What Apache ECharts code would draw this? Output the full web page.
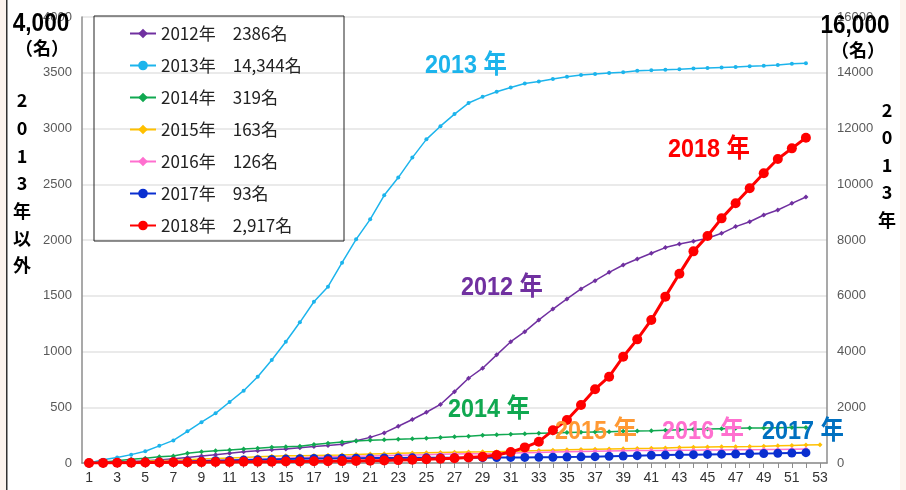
<!DOCTYPE html>
<html><head><meta charset="utf-8">
<script src="https://cdn.jsdelivr.net/npm/echarts@6/dist/echarts.min.js"></script>
<style>html,body{margin:0;padding:0;background:#fff;}#c{width:906px;height:490px;}</style>
</head><body><div id="c"></div>
<script>
const weeks = Array.from({length: 53}, (_, i) => String(i + 1));
const seriesNames = ['2012年', '2013年', '2014年', '2015年', '2016年', '2017年', '2018年'];
const totals = ['2386名', '14,344名', '319名', '163名', '126名', '93名', '2,917名'];
const leftTicks = [0, 500, 1000, 1500, 2000, 2500, 3000, 3500, 4000];
const rightTicks = [0, 2000, 4000, 6000, 8000, 10000, 12000, 14000, 16000];

const y2012 = [0,3,8,14,20,28,38,50,62,75,88,100,110,118,126,137,147,157,168,200,230,270,330,390,455,525,640,760,850,970,1088,1178,1283,1381,1471,1561,1635,1710,1776,1830,1881,1932,1964,1988,2015,2060,2120,2164,2224,2269,2329,2386];
const y2013 = [0,120,200,300,420,615,810,1135,1465,1783,2188,2594,3097,3695,4352,5047,5786,6324,7185,8024,8742,9603,10240,10956,11610,12083,12518,12913,13136,13316,13474,13614,13686,13775,13856,13918,13954,13990,14014,14074,14086,14110,14122,14150,14170,14190,14210,14230,14250,14280,14320,14344];
const y2014 = [0,10,21,33,42,57,63,87,101,110,117,126,132,141,146,150,165,177,188,198,205,208,213,217,222,229,235,241,248,254,258,263,266,270,273,276,279,281,284,287,290,294,298,302,305,308,311,313,315,317,318,319];
const y2015 = [0,3,6,10,15,20,25,30,35,40,45,50,55,60,64,66,68,70,72,76,80,84,87,90,93,95,97,99,100,102,105,108,111,115,118,121,124,126,128,130,132,135,138,141,143,145,146,148,151,155,158,161,163];
const y2016 = [0,2,4,7,10,13,16,19,22,25,28,31,34,38,42,48,52,55,57,60,63,66,69,72,75,78,80,82,84,86,89,92,95,98,101,104,106,108,110,111,112,113,114,115,116,117,118,119,120,122,124,126];
const y2017 = [0,2,4,6,8,10,12,14,17,20,23,26,29,32,35,38,40,41,42,43,44,45,45,46,46,47,47,48,48,49,50,50,51,52,54,55,57,60,63,66,69,71,73,75,77,79,81,83,85,87,90,93];
const y2018 = [0,1,2,3,4,5,6,7,8,9,10,11,12,12,13,14,15,16,17,19,21,23,26,29,33,38,43,50,57,72,98,140,191,293,385,520,662,774,953,1109,1283,1492,1698,1898,2036,2194,2329,2464,2598,2727,2822,2917];

const colors = ['#7030a0', '#1cb4ec', '#10a850', '#ffc000', '#ff6fcf', '#0a2fd0', '#ff0000'];
const dataArr = [y2012, y2013, y2014, y2015, y2016, y2017, y2018];
const symSize = [5, 4, 5, 5, 5, 9, 10];
const lineW = [1.5, 1.5, 1.5, 1.5, 1.5, 2, 3];
const symbols = ['diamond', 'circle', 'diamond', 'diamond', 'diamond', 'circle', 'circle'];

const series = seriesNames.map((n, i) => ({
  name: n, type: 'line', data: dataArr[i], yAxisIndex: i === 1 ? 1 : 0,
  symbol: symbols[i], symbolSize: symSize[i], showAllSymbol: true,
  lineStyle: {color: colors[i], width: lineW[i]},
  itemStyle: {color: colors[i]},
  z: 2 + i, animation: false
}));

const jpFont = "'Noto Sans CJK JP', 'Liberation Sans', sans-serif";
function bigLabel(text, cx, cy, color) {
  return {type: 'text', x: cx, y: cy, scaleX: 0.9, z: 100,
    style: {text: text, fill: color, font: "bold 26px 'Liberation Sans', 'Noto Sans CJK JP', sans-serif", textAlign: 'center', textVerticalAlign: 'middle'}};
}
function vertText(chars, cx, ys) {
  return chars.map((ch, i) => ({type: 'text', x: cx, y: ys[i], z: 100,
    style: {text: ch, fill: '#000', font: "bold 18px " + jpFont, textAlign: 'center', textVerticalAlign: 'middle'}}));
}

const chart = echarts.init(document.getElementById('c'), null, {renderer: 'canvas'});
chart.setOption({
  backgroundColor: '#ffffff',
  animation: false,
  color: colors,
  grid: {left: 82, right: 79, top: 17, bottom: 27, containLabel: false},
  legend: {
    data: seriesNames, orient: 'vertical', left: 124, top: 18, itemGap: 11,
    itemWidth: 26, itemHeight: 12,
    textStyle: {fontSize: 17, lineHeight: 21, color: '#222', fontFamily: jpFont},
    formatter: n => n + '\u3000' + totals[seriesNames.indexOf(n)],
    selectedMode: false
  },
  xAxis: {
    type: 'category', data: weeks, boundaryGap: true,
    axisLine: {lineStyle: {color: '#8c8c8c', width: 1.5}},
    axisTick: {show: true, alignWithLabel: true, interval: 0, length: 5, lineStyle: {color: '#8c8c8c'}},
    axisLabel: {interval: 1, color: '#333', fontSize: 14, margin: 8, fontFamily: "'Liberation Sans', sans-serif"},
    splitLine: {show: false}
  },
  yAxis: [
    {type: 'value', min: leftTicks[0], max: leftTicks[leftTicks.length - 1], interval: leftTicks[1] - leftTicks[0],
     axisLine: {show: true, lineStyle: {color: '#8c8c8c', width: 1.5}},
     axisTick: {show: false},
     axisLabel: {color: '#595959', fontSize: 13, margin: 10, fontFamily: "'Liberation Sans', sans-serif", formatter: v => String(v)},
     splitLine: {show: true, lineStyle: {color: '#e3e3e3', width: 1.5}}},
    {type: 'value', min: rightTicks[0], max: rightTicks[rightTicks.length - 1], interval: rightTicks[1] - rightTicks[0],
     position: 'right',
     axisLine: {show: true, lineStyle: {color: '#8c8c8c', width: 1.5}},
     axisTick: {show: false},
     axisLabel: {color: '#595959', fontSize: 13, margin: 10, fontFamily: "'Liberation Sans', sans-serif", formatter: v => String(v)},
     splitLine: {show: false}}
  ],
  series: series,
  graphic: [
    {type: 'rect', shape: {x: 0, y: 0, width: 6, height: 490}, style: {fill: '#fdf4ee'}, z: 50},
    {type: 'rect', shape: {x: 6, y: 0, width: 1.5, height: 490}, style: {fill: '#333'}, z: 50},
    {type: 'rect', shape: {x: 900, y: 0, width: 6, height: 490}, style: {fill: '#fdf4ee'}, z: 50},
    {type: 'rect', shape: {x: 94, y: 16, width: 250, height: 225}, style: {fill: 'none', stroke: '#222', lineWidth: 1}, z: 60},
    {type: 'text', x: 41, y: 24, scaleX: 0.9, z: 100, style: {text: '4,000', fill: '#000', font: "bold 25px 'Liberation Sans', sans-serif", textAlign: 'center', textVerticalAlign: 'middle'}},
    {type: 'text', x: 42, y: 48, z: 100, style: {text: '（名）', fill: '#000', font: "bold 18px " + jpFont, textAlign: 'center', textVerticalAlign: 'middle'}},
    {type: 'text', x: 855, y: 26, scaleX: 0.9, z: 100, style: {text: '16,000', fill: '#000', font: "bold 25px 'Liberation Sans', sans-serif", textAlign: 'center', textVerticalAlign: 'middle'}},
    {type: 'text', x: 858, y: 50, z: 100, style: {text: '（名）', fill: '#000', font: "bold 18px " + jpFont, textAlign: 'center', textVerticalAlign: 'middle'}},
    ...vertText(['2', '0', '1', '3', '年', '以', '外'], 22, [100, 128, 156, 183, 211, 238, 265]),
    ...vertText(['2', '0', '1', '3', '年'], 887, [110, 137, 165, 192, 220]),
    bigLabel('2013 年', 466, 66, '#1cb4ec'),
    bigLabel('2018 年', 709, 150, '#ff0000'),
    bigLabel('2012 年', 502, 288, '#7030a0'),
    bigLabel('2014 年', 489, 410, '#10a850'),
    bigLabel('2015 年', 596, 432, '#ff9933'),
    bigLabel('2016 年', 703, 432, '#ff6fcf'),
    bigLabel('2017 年', 803, 432, '#0070c0')
  ]
});
</script></body></html>
